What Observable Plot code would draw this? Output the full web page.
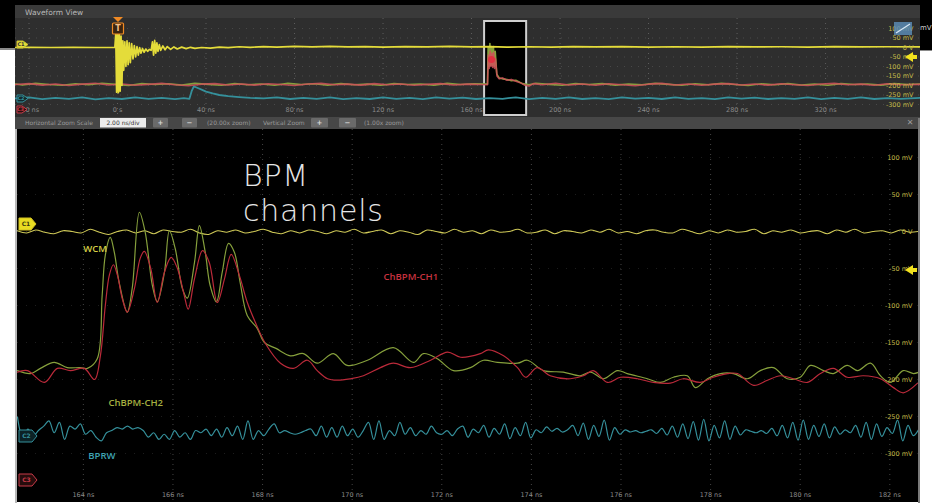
<!DOCTYPE html>
<html><head><meta charset="utf-8">
<script src="https://cdn.jsdelivr.net/npm/d3@7"></script>
<script src="https://cdn.jsdelivr.net/npm/@observablehq/plot@0.6"></script>
<style>
body{margin:0;background:#fff;}
#stage{position:relative;width:932px;height:503px;overflow:hidden;background:#fff;font-family:"DejaVu Sans",sans-serif;}
.abs{position:absolute;}
.abs svg{display:block;}
</style></head><body><div id="stage"></div>
<script>
// ---------------- DATA ----------------
// Main (zoomed) view: time in ns, amplitude in mV
const mainXTicks = [164,166,168,170,172,174,176,178,180,182];
const mainXLabels = ["164 ns","166 ns","168 ns","170 ns","172 ns","174 ns","176 ns","178 ns","180 ns","182 ns"];
const mainYTicks = [100,50,0,-50,-100,-150,-200,-250,-300];
const mainYLabels = ["100 mV","50 mV","0 V","-50 mV","-100 mV","-150 mV","-200 mV","-250 mV","-300 mV"];

// ChBPM-CH2 (green)
const ch2T = [162.53,162.82,163.04,163.35,163.64,163.93,164.09,164.31,164.42,164.49,164.60,164.69,164.80,164.98,165.09,165.25,165.38,165.54,165.65,165.81,165.92,166.05,166.21,166.32,166.48,166.59,166.72,166.83,166.97,167.10,167.24,167.37,167.50,167.66,167.88,168.04,168.30,168.62,168.91,169.22,169.58,169.89,170.34,170.92,171.37,171.59,171.90,172.26,172.64,172.93,173.24,173.69,173.91,174.27,174.71,175.09,175.32,175.61,175.92,176.14,176.59,176.88,177.17,177.48,177.66,177.93,178.22,178.51,178.82,179.11,179.40,179.71,180.00,180.23,180.52,180.74,181.05,181.28,181.57,181.79,182.01,182.30,182.53,182.65];
const ch2Mv = [-188,-192,-185,-177,-184,-184,-185,-172,-86,-32,-8,-28,-69,-109,-77,26,-1,-73,-95,-55,1,-23,-77,-90,-42,8,-28,-73,-95,-55,-16,-28,-69,-114,-131,-150,-158,-168,-165,-178,-165,-181,-174,-157,-177,-165,-172,-188,-184,-174,-177,-178,-174,-188,-190,-195,-190,-199,-188,-192,-199,-204,-197,-195,-211,-199,-192,-192,-199,-188,-184,-199,-197,-181,-188,-192,-181,-188,-178,-195,-204,-188,-192,-190];

// ChBPM-CH1 (red)
const ch1T = [162.53,162.75,163.13,163.42,163.71,164.02,164.25,164.38,164.49,164.58,164.67,164.76,164.87,164.98,165.14,165.27,165.36,165.50,165.65,165.81,165.96,166.10,166.25,166.34,166.48,166.66,166.81,166.99,167.15,167.30,167.48,167.66,167.84,168.06,168.40,168.69,169.00,169.22,169.45,169.67,169.96,170.25,170.63,170.92,171.30,171.75,172.13,172.42,172.86,173.04,173.38,173.69,173.87,174.13,174.42,174.87,175.16,175.38,175.70,175.99,176.37,176.72,177.10,177.39,177.77,178.06,178.38,178.60,178.96,179.27,179.56,179.85,180.16,180.45,180.74,181.05,181.41,181.79,182.08,182.30,182.62];
const ch1Mv = [-190,-188,-204,-185,-188,-185,-200,-168,-100,-59,-45,-59,-91,-109,-77,-36,-27,-49,-96,-55,-35,-50,-86,-105,-64,-26,-42,-96,-64,-31,-59,-96,-123,-151,-178,-185,-174,-188,-199,-201,-199,-195,-184,-178,-184,-174,-163,-170,-165,-160,-168,-184,-197,-184,-195,-199,-195,-188,-204,-197,-199,-204,-205,-199,-204,-197,-192,-192,-208,-201,-195,-199,-204,-192,-185,-197,-195,-199,-211,-218,-205];

// WCM (C1, yellow): oscilloscope samples across the window
const wcmStart = 162.53, wcmEnd = 182.64;
const wcmMv = [1,-2,2,-1,-3,1,0,-2,3,-1,-4,0,2,-2,1,-3,2,0,-1,3,-2,-4,1,-1,2,-2,0,3,-1,-3,1,-2,2,0,-3,1,-1,3,-2,0,2,-3,1,-1,-4,2,0,-2,3,-1,1,-3,2,-1,0,3,-2,-1,2,-3,1,0,-2,2,-1,3,-2,0,-3,1,2,-1,-2,3,0,-3,1,-2,2,-1,0,3,-3,1,-1,2,-2,0,1,-3,2,-1,3,-2,0,1,-2,2,-1,0];

// BPRW (C2, cyan): oscilloscope samples across the window
const bprwStart = 162.53, bprwEnd = 182.64;
const bprwMv = [-251,-278,-267,-276,-269,-263,-256,-272,-258,-281,-263,-267,-260,-274,-269,-278,-283,-272,-269,-265,-267,-263,-267,-265,-269,-278,-272,-281,-274,-281,-269,-278,-272,-281,-269,-272,-267,-276,-267,-278,-265,-276,-263,-281,-256,-281,-269,-276,-267,-260,-272,-269,-272,-274,-272,-269,-267,-276,-263,-278,-265,-278,-263,-276,-267,-278,-269,-258,-281,-256,-281,-269,-276,-258,-274,-265,-276,-269,-274,-263,-272,-274,-269,-276,-267,-263,-278,-267,
  -272,-262,-278,-266,-274,-260,-280,-265,-276,-258,-279,-268,-272,-264,-270,-266,-271,-268,-262,-276,-259,-281,-262,-277,-255,-282,-265,-274,-268,-271,-269,-272,-270,-268,-273,-266,-275,-263,-278,-260,-280,-257,-282,-254,-283,-262,-279,-256,-281,-263,-275,-268,-270,-272,-269,-273,-266,-276,-262,-279,-258,-282,-255,-281,-262,-277,-260,-279,-264,-274,-268,-272,-262,-278,-258,-281,-260,-277,-265,-273,-255,-283,-262,-276,-268];

const labelNames = ["WCM","ChBPM-CH1","ChBPM-CH2","BPRW"];
const labelT = [164.0,170.70,164.56,164.11];
const labelMv = [-24,-61,-232,-303];
const labelColors = ["#d6cf45","#c8323f","#a6b040","#3fa3b3"];

// Overview (Waveform View): time in ns, amplitude in mV
const ovXTicks = [-40,0,40,80,120,160,200,240,280,320];
const ovXLabels = ["-40 ns","0 s","40 ns","80 ns","120 ns","160 ns","200 ns","240 ns","280 ns","320 ns"];
const ovYTicks = [100,50,0,-50,-100,-150,-200,-250,-300];
const ovYLabels = ["100 mV","50 mV","0 V","-50 mV","-100 mV","-150 mV","-200 mV","-250 mV","-300 mV"];
const zoomWindow = [165.9, 184.9];

const ovYellow = [[-46.1,0],[-40,1],[-30,0],[-20,1],[-10,0],[-1.2,0],[-0.8,70],[-0.4,-235],[0,75],[0.4,-238],[0.8,70],[1.2,-230],[1.6,60],[2.0,-200],[2.4,35],[2.8,-120],[3.3,30],[3.8,-100],[4.3,35],[4.8,-90],[5.3,25],[5.8,-80],[6.4,20],[7.0,-60],[7.6,10],[8.2,-50],[8.8,5],[9.4,-40],[10,0],[10.6,-30],[11.3,-5],[12,-25],[12.8,-8],[13.6,-20],[14.4,-10],[15.2,-15],[15.8,30],[16.3,-40],[16.8,37],[17.3,-30],[17.8,25],[18.3,-20],[18.9,15],[19.5,-15],[20.5,8],[21.5,-12],[22.5,5],[24,-10],[25.5,3],[27,-8],[29,2],[31,-6],[33,1],[35,-5],[38,0],[42,-3],[46,2],[50,-1],[55,4],[60,1],[66,5],[72,2],[80,6],[88,3],[96,6],[104,3],[112,5],[120,2],[130,5],[140,3],[150,6],[160,3],[168,5],[176,2],[186,4],[196,2],[206,5],[216,3],[228,5],[240,2],[252,4],[264,2],[276,5],[288,3],[300,4],[312,2],[324,5],[336,3],[348,4],[362.9,3]];
const ovRed = [[-46.1,-195],[-40,-190],[-34,-198],[-28,-192],[-22,-200],[-16,-193],[-10,-188],[-4,-197],[2,-192],[8,-199],[14,-194],[20,-189],[26,-196],[32,-201],[38,-193],[44,-190],[50,-197],[56,-192],[62,-198],[68,-191],[74,-195],[80,-200],[86,-192],[92,-189],[98,-196],[104,-193],[110,-198],[116,-190],[122,-196],[128,-192],[134,-199],[140,-194],[146,-190],[152,-197],[158,-193],[164,-195],[167.2,-196],[167.6,-40],[168,-110],[168.4,-20],[168.8,-100],[169.2,-30],[169.6,-105],[170,-25],[170.4,-110],[170.8,-60],[171.5,-150],[172.5,-165],[174,-160],[176,-172],[178,-168],[180,-178],[182,-185],[184,-198],[186,-203],[188,-190],[192,-196],[198,-188],[204,-197],[210,-192],[216,-199],[222,-191],[228,-196],[234,-201],[240,-193],[246,-189],[252,-197],[258,-192],[264,-199],[270,-193],[276,-190],[282,-197],[288,-192],[294,-198],[300,-191],[306,-196],[312,-200],[318,-192],[324,-189],[330,-196],[336,-193],[342,-199],[348,-191],[354,-196],[362.9,-194]];
const ovGreen = [[-46.1,-192],[-43,-197],[-37,-189],[-31,-195],[-25,-199],[-19,-191],[-13,-196],[-7,-188],[-1,-194],[5,-200],[11,-190],[17,-195],[23,-191],[29,-198],[35,-189],[41,-194],[47,-199],[53,-190],[59,-196],[65,-192],[71,-199],[77,-189],[83,-195],[89,-191],[95,-198],[101,-190],[107,-196],[113,-193],[119,-199],[125,-190],[131,-195],[137,-192],[143,-198],[149,-189],[155,-195],[161,-191],[167.2,-193],[167.5,0],[167.9,-100],[168.3,21],[168.7,-95],[169.1,5],[169.5,-95],[169.9,5],[170.3,-100],[170.7,-20],[171.4,-140],[172.5,-160],[174,-165],[176,-168],[178,-175],[180,-172],[183,-190],[186,-196],[189,-188],[195,-194],[201,-199],[207,-190],[213,-195],[219,-190],[225,-198],[231,-192],[237,-196],[243,-189],[249,-194],[255,-199],[261,-191],[267,-196],[273,-189],[279,-195],[285,-200],[291,-191],[297,-196],[303,-190],[309,-197],[315,-193],[321,-199],[327,-190],[333,-195],[339,-192],[345,-198],[351,-190],[357,-195],[362.9,-192]];
const ovCyan = [[-46.1,-268],[-40,-262],[-34,-272],[-28,-265],[-22,-270],[-16,-262],[-10,-273],[-4,-266],[2,-271],[8,-263],[14,-270],[20,-265],[26,-272],[30,-266],[32.5,-270],[33.5,-230],[34.5,-205],[36,-212],[38,-222],[40,-232],[43,-242],[46,-250],[50,-256],[55,-261],[60,-265],[66,-268],[72,-263],[78,-271],[84,-265],[90,-270],[96,-262],[102,-272],[108,-266],[114,-271],[120,-263],[126,-270],[132,-265],[138,-272],[144,-262],[150,-269],[156,-264],[162,-271],[168,-266],[174,-270],[180,-262],[186,-272],[192,-265],[198,-270],[204,-263],[210,-271],[216,-266],[222,-272],[228,-262],[234,-269],[240,-265],[246,-271],[252,-263],[258,-270],[264,-266],[270,-272],[276,-262],[282,-269],[288,-264],[294,-271],[300,-266],[306,-270],[312,-262],[318,-272],[324,-265],[330,-270],[336,-263],[342,-271],[348,-266],[354,-270],[362.9,-265]];
const ovZoomMarker = [[169.0,-63]];

// ---------------- STYLE ----------------
const C = {
  yellow: "#e4dc3a", yellowDim: "#cfc957", green: "#86a03c", red: "#bb2a3a", cyan: "#35909b",
  tickText: "#8a8a8a", mvText: "#c2b848"
};

// ---------------- LAYOUT ----------------
const stage = d3.select("#stage");
function block(x,y,w,h,bg){ return stage.append("div").attr("class","abs").style("left",x+"px").style("top",y+"px").style("width",w+"px").style("height",h+"px").style("background",bg); }

block(0,0,932,5,"#000");
block(0,0,15,48,"#000");
block(0,48,15,2,"#8a8a8a");
block(920,0,12,50,"#000");
block(920,50,12,1,"#8a8a8a");
block(15,5,905,124,"#2e2e2e").style("border-top","1px solid #555");
block(15,5,905,13,"#3a3a3a");
block(15,117,905,12,"#474747");
block(17,129,901,373,"#000");
block(15,129,2,374,"#b8b8b8");
block(918,118,2,385,"#7a7a7a");

// ---------------- OVERVIEW PLOT ----------------
const toObj = a => a.map(d => ({t:d[0], v:d[1]}));
const ovW = 905, ovH = 99;
const ov = Plot.plot({
  width: ovW, height: ovH, margin: 0,
  x: {domain: [-46.1, 362.9], axis: null},
  y: {domain: [-368.4, 152.6], axis: null},
  style: {background: "transparent", fontFamily: "DejaVu Sans"},
  marks: [
    Plot.gridX(ovXTicks, {stroke: "#9a9a9a", strokeOpacity: 0.45, strokeDasharray: "1,4"}),
    Plot.gridY(ovYTicks, {stroke: "#9a9a9a", strokeOpacity: 0.25, strokeDasharray: "1,6"}),
    Plot.rect([zoomWindow], {x1: d => d[0], x2: d => d[1], fill: "#000", stroke: "#cfcfcf", strokeWidth: 2, insetTop: 3, insetBottom: 2}),
    Plot.line(toObj(ovCyan), {x: "t", y: "v", stroke: C.cyan, strokeWidth: 1.8}),
    Plot.line(toObj(ovGreen), {x: "t", y: "v", stroke: C.green, strokeWidth: 1.6}),
    Plot.line(toObj(ovRed), {x: "t", y: "v", stroke: "#d0505a", strokeWidth: 1.6, strokeOpacity: 0.85}),
    Plot.line(toObj(ovYellow), {x: "t", y: "v", stroke: C.yellow, strokeWidth: 1.7}),
    Plot.dot(toObj(ovZoomMarker), {x: "t", y: "v", r: 3.5, fill: "#e03040"}),
    Plot.text(ovXTicks, {x: d => d, text: (d,i) => ovXLabels[i], frameAnchor: "bottom", dy: -6, fill: C.tickText, fontSize: 6.5}),
    Plot.text(ovYTicks, {y: d => d, text: (d,i) => ovYLabels[i], frameAnchor: "right", textAnchor: "end", dx: -7, fill: C.mvText, fontSize: 6.5})
  ]
});
stage.append("div").attr("class","abs").style("left","15px").style("top","18px").node().appendChild(ov);

// ---------------- MAIN PLOT ----------------
const mainW = 901, mainH = 372;
const wcm = wcmMv.map((v,i) => ({t: wcmStart + i*(wcmEnd-wcmStart)/(wcmMv.length-1), v}));
const bprw = bprwMv.map((v,i) => ({t: bprwStart + i*(bprwEnd-bprwStart)/(bprwMv.length-1), v}));
const ch1 = ch1T.map((t,i) => ({t, v: ch1Mv[i]}));
const ch2 = ch2T.map((t,i) => ({t, v: ch2Mv[i]}));
const labels = labelNames.map((n,i) => ({n, t: labelT[i], v: labelMv[i], c: labelColors[i]}));

const main = Plot.plot({
  width: mainW, height: mainH, margin: 0,
  x: {domain: [162.53, 182.64], axis: null},
  y: {domain: [-364.9, 137.8], axis: null},
  color: {type: "identity"},
  style: {background: "transparent", fontFamily: "DejaVu Sans"},
  marks: [
    Plot.gridX(mainXTicks, {stroke: "#8a8a8a", strokeOpacity: 0.5, strokeDasharray: "1,4"}),
    Plot.gridY(mainYTicks, {stroke: "#8a8a8a", strokeOpacity: 0.22, strokeDasharray: "1,8"}),
    Plot.line(bprw, {x: "t", y: "v", stroke: C.cyan, strokeWidth: 1.2, curve: "catmull-rom"}),
    Plot.line(wcm, {x: "t", y: "v", stroke: C.yellowDim, strokeWidth: 1.1, curve: "catmull-rom"}),
    Plot.line(ch2, {x: "t", y: "v", stroke: C.green, strokeWidth: 1.2, curve: "catmull-rom"}),
    Plot.line(ch1, {x: "t", y: "v", stroke: C.red, strokeWidth: 1.2, curve: "catmull-rom"}),
    Plot.text(labels, {x: "t", y: "v", text: "n", fill: "c", textAnchor: "start", fontSize: 9.5, fontWeight: 600, fontFamily: "Open Sans"}),
    Plot.text(mainXTicks, {x: d => d, text: (d,i) => mainXLabels[i], frameAnchor: "bottom", dy: -5, fill: C.tickText, fontSize: 6.5}),
    Plot.text(mainYTicks, {y: d => d, text: (d,i) => mainYLabels[i], frameAnchor: "right", textAnchor: "end", dx: -6, fill: C.mvText, fontSize: 6.5})
  ]
});
stage.append("div").attr("class","abs").style("left","17px").style("top","129px").node().appendChild(main);

// ---------------- ANNOTATION ----------------
stage.append("div").attr("class","abs")
  .style("left","243px").style("top","158px")
  .style("font-family","'DejaVu Sans'").style("font-weight","200")
  .style("font-size","30px").style("line-height","35px").style("letter-spacing","0.8px").style("color","#e6e6e6")
  .html("BPM<br>channels");

// ---------------- DECORATIONS (UI chrome) ----------------
const svg = stage.append("svg").attr("class","abs").style("left","0").style("top","0")
  .attr("width",932).attr("height",503).style("pointer-events","none");

function txt(x,y,s,opts={}){
  return svg.append("text").attr("x",x).attr("y",y).attr("dy","0.35em")
    .attr("font-size",opts.size||6.5).attr("fill",opts.fill||"#9a9a9a")
    .attr("text-anchor",opts.anchor||"start").attr("font-family",opts.font||"DejaVu Sans")
    .attr("font-weight",opts.weight||"normal").text(s);
}
function tag(x,y,w,h,fill,stroke,label,tc){
  svg.append("path").attr("d",`M${x},${y} h${w-5} l5,${h/2} l-5,${h/2} h${-(w-5)} z`)
    .attr("fill",fill).attr("stroke",stroke).attr("stroke-width",1).attr("stroke-linejoin","round");
  txt(x+(w-5)/2+1,y+h/2,label,{size:Math.min(6,h-2),fill:tc,anchor:"middle",weight:"bold"});
}
function leftArrow(x,y,color){
  svg.append("path").attr("d",`M${x},${y} l8,-5 v3 h4 v4 h-4 v3 z`).attr("fill",color);
}
function button(x,y,w,h,s){
  svg.append("rect").attr("x",x).attr("y",y).attr("width",w).attr("height",h).attr("fill","#6a6a6a").attr("rx",1);
  txt(x+w/2,y+h/2,s,{size:7,fill:"#d8d8d8",anchor:"middle",weight:"bold"});
}

// title bar
txt(25,12,"Waveform View",{size:7.5,fill:"#b8b8b8"});
// overview channel tags
tag(17,41,11,7,C.yellow,"#c8c030","C1","#333");
tag(17,95,11,7,"#12282c",C.cyan,"C2",C.cyan);
tag(17,106,10,7,"#2a1010","#c83a48","C3","#c83a48");
// trigger marker
svg.append("path").attr("d","M113,17 h10 l-5,5 z").attr("fill","#f08a24");
svg.append("rect").attr("x",112.5).attr("y",23).attr("width",11).attr("height",11).attr("fill","#3a2410").attr("stroke","#f08a24").attr("stroke-width",1.2).attr("rx",1);
txt(118,28.5,"T",{size:8,fill:"#f3c08a",anchor:"middle",weight:"bold"});
// overview right icons
svg.append("rect").attr("x",894).attr("y",22).attr("width",18).attr("height",13).attr("fill","#5d90bb").attr("opacity",0.8);
svg.append("path").attr("d","M896,33 L910,24").attr("stroke","#d8e8f5").attr("stroke-width",1.2);
leftArrow(905,57,"#f2e21e");
txt(920,28,"mV",{size:7,fill:"#cfcfcf"});
// control bar
txt(25,122.5,"Horizontal Zoom Scale",{size:6,fill:"#9a9a9a"});
svg.append("rect").attr("x",100).attr("y",118).attr("width",46).attr("height",9.5).attr("fill","#ececec");
txt(123,122.8,"2.00 ns/div",{size:6,fill:"#333",anchor:"middle"});
button(153,118,15,9.5,"+");
button(182,118,15,9.5,"−");
txt(207,122.5,"(20.00x zoom)",{size:6,fill:"#9a9a9a"});
txt(263,122.5,"Vertical Zoom",{size:6,fill:"#9a9a9a"});
button(311,118,17,9.5,"+");
button(339,118,17,9.5,"−");
txt(364,122.5,"(1.00x zoom)",{size:6,fill:"#9a9a9a"});
txt(910,122.5,"✕",{size:8,fill:"#9a9a9a",anchor:"middle"});
// main channel tags
tag(19,218,17,12,"#e8dc22","#d0c020","C1","#3a3a10");
tag(19,430,18,12,"#0c2226",C.cyan,"C2",C.cyan);
tag(19,474,18,12,"#260c0c","#c83a48","C3","#c83a48");
leftArrow(905,270,"#f2e21e");
</script></body></html>
